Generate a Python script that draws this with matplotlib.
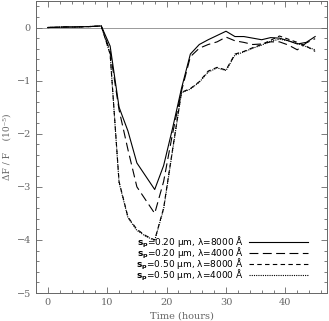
import numpy as np
import matplotlib
matplotlib.use("Agg")
import matplotlib.pyplot as plt
from matplotlib.ticker import MultipleLocator

# ---- data ----
time_h = [0, 1.5, 3, 4.5, 6, 7.5, 9, 10.5, 12, 13.5, 15, 16.5, 18, 19.5, 21, 22.5,
          24, 25.5, 27, 28.5, 30, 31.5, 33, 34.5, 36, 37.5, 39, 40.5, 42, 43.5, 45]

s020_l8000 = [0.0, 0.005, 0.01, 0.01, 0.015, 0.02, 0.03, -0.35, -1.5, -1.95, -2.55, -2.8,
              -3.05, -2.6, -1.9, -1.15, -0.5, -0.32, -0.23, -0.15, -0.07, -0.17, -0.17,
              -0.2, -0.23, -0.19, -0.2, -0.25, -0.31, -0.28, -0.17]
s020_l4000 = [0.0, 0.005, 0.01, 0.01, 0.015, 0.02, 0.03, -0.45, -1.55, -2.3, -3.0, -3.25,
              -3.5, -2.9, -2.0, -1.2, -0.55, -0.39, -0.32, -0.27, -0.18, -0.25, -0.28,
              -0.32, -0.31, -0.27, -0.27, -0.33, -0.42, -0.29, -0.21]
s050_l8000 = [0.0, 0.005, 0.01, 0.01, 0.015, 0.02, 0.03, -0.5, -2.9, -3.57, -3.8, -3.92,
              -4.0, -3.4, -2.3, -1.22, -1.15, -1.02, -0.82, -0.75, -0.8, -0.5, -0.45,
              -0.38, -0.32, -0.24, -0.16, -0.22, -0.28, -0.35, -0.45]
s050_l4000 = [0.0, 0.005, 0.01, 0.01, 0.015, 0.02, 0.03, -0.5, -2.92, -3.58, -3.82, -3.93,
              -4.01, -3.42, -2.32, -1.23, -1.16, -1.03, -0.84, -0.76, -0.81, -0.52, -0.46,
              -0.39, -0.33, -0.26, -0.22, -0.25, -0.3, -0.36, -0.42]

labels = ["$\\mathbf{s}_\\mathbf{p}$=0.20 μm, λ=8000 Å",
          "$\\mathbf{s}_\\mathbf{p}$=0.20 μm, λ=4000 Å",
          "$\\mathbf{s}_\\mathbf{p}$=0.50 μm, λ=8000 Å",
          "$\\mathbf{s}_\\mathbf{p}$=0.50 μm, λ=4000 Å"]
y_ticks = [-5, -4, -3, -2, -1, 0]
y_tick_labels = ['\u22125', '\u22124', '\u22123', '\u22122', '\u22121', '0']

plt.rcParams['font.family'] = ['DejaVu Serif']
plt.rcParams['mathtext.fontset'] = 'dejavusans'

fig = plt.figure(figsize=(3.29, 3.21), dpi=100)
ax = fig.add_axes([0.109, 0.087, 0.885, 0.910])

gray = '#666666'
ax.axhline(0, color='#999999', lw=0.7, zorder=1)

series = [s020_l8000, s020_l4000, s050_l8000, s050_l4000]
styles = ['-', (0, (8, 4)), (0, (4, 3)), (0, (1, 1))]
for ys, ls, lab in zip(series, styles, labels):
    ax.plot(time_h, ys, color='black', lw=0.8, ls=ls, label=lab)

ax.set_xlim(-2, 47)
ax.set_ylim(-5, 0.5)
ax.xaxis.set_major_locator(MultipleLocator(10))
ax.xaxis.set_minor_locator(MultipleLocator(2))
ax.yaxis.set_minor_locator(MultipleLocator(0.2))
ax.set_yticks(y_ticks)
ax.set_yticklabels(y_tick_labels)
ax.tick_params(which='both', direction='in', top=True, right=True, colors=gray,
               labelsize=7, width=0.6)
ax.tick_params(which='major', length=4)
ax.tick_params(which='minor', length=2.2)
for sp in ax.spines.values():
    sp.set_color(gray)
    sp.set_linewidth(0.7)

ax.set_xlabel('Time (hours)', fontsize=7, color=gray, labelpad=3)
ax.set_ylabel('\u0394F / F    (10\u207b\u2075)', fontsize=6.5, color=gray)
ax.yaxis.set_label_coords(-0.085, 0.5)

leg = ax.legend(loc='lower right', bbox_to_anchor=(0.935, 0.035), frameon=False,
                markerfirst=False, handlelength=6.6, handletextpad=0.5,
                labelspacing=-0.45, borderaxespad=0, borderpad=0,
                prop={'family': 'DejaVu Sans', 'size': 6.5})

fig.savefig('out.png', dpi=100)
